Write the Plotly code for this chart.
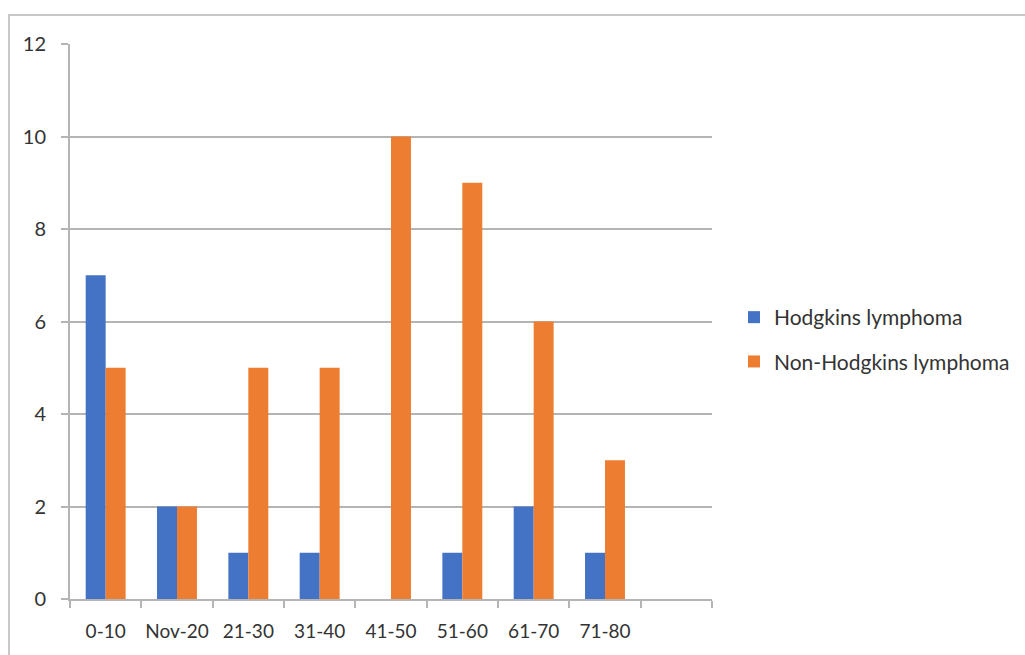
import plotly.graph_objects as go

# Age groups (the last slot is intentionally empty)
age_groups = ["0-10", "Nov-20", "21-30", "31-40", "41-50", "51-60", "61-70", "71-80", " "]
hodgkins = [7, 2, 1, 1, 0, 1, 2, 1, None]
non_hodgkins = [5, 2, 5, 5, 10, 9, 6, 3, None]
y_ticks = [0, 2, 4, 6, 8, 10, 12]

BLUE = "#4472C4"
ORANGE = "#ED7D31"
GRID = "#B4B4B4"
TEXT = "#333333"
FONT = "Lato, 'Open Sans', sans-serif"

fig = go.Figure()
fig.add_trace(go.Bar(x=age_groups, y=hodgkins, name="Hodgkins lymphoma",
                     marker=dict(color=BLUE, line=dict(width=0)), legendgroup="a"))
fig.add_trace(go.Bar(x=age_groups, y=non_hodgkins, name="Non-Hodgkins lymphoma",
                     marker=dict(color=ORANGE, line=dict(width=0)), legendgroup="b"))

# plot area: x 70..712, y 44..599 in a 1025x655 page
L, R, T, B = 70, 1025 - 712, 44, 655 - 599
W, H = 1025, 655
pw, ph = W - L - R, H - T - B

def px_x(v):
    return (v - L) / pw

def px_y(v):
    return (H - B - v) / ph

fig.update_layout(
    width=W, height=H,
    margin=dict(l=L, r=R, t=T, b=B, pad=0, autoexpand=False),
    paper_bgcolor="white", plot_bgcolor="white",
    barmode="group", bargap=0.44, bargroupgap=0,
    font=dict(family=FONT, size=19, color=TEXT),
    showlegend=True,
    legend=dict(x=px_x(734), y=px_y(297), xanchor="left", yanchor="top",
                font=dict(family=FONT, size=21, color=TEXT),
                traceorder="grouped", tracegroupgap=14,
                itemwidth=30, bgcolor="rgba(0,0,0,0)"),
    xaxis=dict(type="category", categoryorder="array", categoryarray=age_groups,
               range=[-0.5, 8.5], showgrid=False, showline=True, linecolor=GRID,
               linewidth=2, ticks="outside", tickson="boundaries", ticklen=7,
               tickwidth=2, tickcolor=GRID, ticklabelstandoff=14, tickangle=0,
               tickfont=dict(size=19, color=TEXT), automargin=False,
               zeroline=False, fixedrange=True),
    yaxis=dict(range=[0, 12], tickvals=y_ticks, showgrid=True, gridcolor=GRID,
               gridwidth=2, showline=True, linecolor=GRID, linewidth=2,
               ticks="outside", ticklen=7, tickwidth=2, tickcolor=GRID,
               ticklabelstandoff=11, tickfont=dict(size=20, color=TEXT),
               automargin=False, zeroline=False, fixedrange=True),
    shapes=[dict(type="rect", xref="paper", yref="paper",
                 x0=px_x(9), x1=px_x(1040), y0=px_y(15), y1=px_y(680),
                 line=dict(color="#C8C8C8", width=2), fillcolor="rgba(0,0,0,0)",
                 layer="below")],
)

fig.write_html("out.html")
